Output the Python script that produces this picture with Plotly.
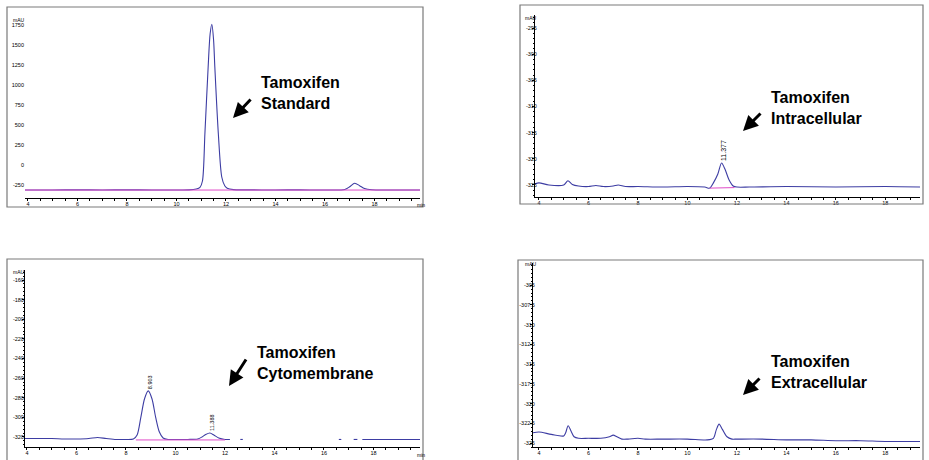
import plotly.graph_objects as go

W, H = 929, 460

# ---------------- data ----------------
# Panel 1: Tamoxifen Standard
std_t = [3.88, 5.0, 6.0, 7.0, 8.0, 9.0, 10.0, 10.5, 10.8, 10.95, 11.05, 11.15, 11.28, 11.36, 11.43,
         11.5, 11.55, 11.69, 11.83, 11.95, 12.05, 12.3, 12.8, 14.0, 15.0, 16.0, 16.8, 17.0, 17.2,
         17.4, 17.6, 17.9, 18.5, 19.84]
std_y = [-312, -312, -311, -312, -311, -312, -312, -311, -300, -280, -200, 400, 1225, 1640, 1760,
         1560, 1225, 400, -150, -260, -290, -308, -311, -312, -311, -312, -306, -272, -228,
         -258, -294, -309, -312, -312]
std_base_t = [3.88, 19.84]
std_base_y = [-313, -313]

# Panel 2: Tamoxifen Intracellular
intra_t = [3.84, 4.0, 4.4, 5.0, 5.17, 5.35, 5.6, 6.0, 6.3, 6.6, 7.0, 7.2, 7.5, 8.0, 9.0, 10.0,
           10.7, 10.9, 11.05, 11.23, 11.38, 11.52, 11.68, 11.85, 12.0, 12.5, 14.0, 16.0, 18.0, 19.4]
intra_y = [-324.8, -324.6, -325.0, -325.0, -324.2, -324.9, -325.2, -325.3, -325.1, -325.3, -325.2,
           -325.0, -325.3, -325.3, -325.4, -325.3, -325.4, -325.6, -324.6, -322.9, -320.8, -322.0,
           -324.0, -325.2, -325.4, -325.4, -325.3, -325.4, -325.3, -325.4]
intra_base_t = [10.9, 11.9]
intra_base_y = [-325.6, -325.5]

# Panel 3: Tamoxifen Cytomembrane (trace has gaps)
cyto_t = [3.92, 4.5, 5.0, 5.5, 6.0, 6.5, 6.85, 7.2, 7.6, 8.0, 8.3, 8.45, 8.6, 8.75, 8.9, 9.05,
          9.2, 9.35, 9.5, 9.7, 10.0, 10.5, 10.9, 11.07, 11.22, 11.39, 11.55, 11.75, 12.0, 12.2,
          None, 12.62, 12.72, None, 16.6, 16.7, None, 17.2, 17.35, None, 17.55, 18.5, 19.88]
cyto_y = [-321.5, -321.5, -321.5, -322, -322, -321.5, -320.5, -321.5, -322.5, -322.5, -322, -318,
          -300, -281, -273, -281, -300, -315, -321, -322.5, -322.5, -322.5, -322, -320, -317.5,
          -316, -318, -321, -322.5, -322.5,
          None, -322.5, -322.5, None, -322.5, -322.5, None, -322.5, -322.5, None, -322.5, -322.5, -322.5]
cyto_base_t = [8.4, 12.0]
cyto_base_y = [-323, -323]

# Panel 4: Tamoxifen Extracellular
extra_t = [3.76, 4.0, 4.5, 5.0, 5.08, 5.18, 5.3, 5.42, 5.6, 6.0, 6.5, 6.85, 7.0, 7.15, 7.35, 7.6,
           8.0, 8.3, 9.0, 10.0, 10.8, 11.05, 11.17, 11.28, 11.42, 11.6, 11.8, 12.0, 13.0, 14.0,
           15.0, 16.0, 17.0, 18.0, 19.4]
extra_y = [-323.7, -323.6, -323.9, -324.1, -323.7, -322.8, -323.5, -324.2, -324.4, -324.4, -324.4,
           -324.2, -324.0, -324.2, -324.5, -324.5, -324.4, -324.5, -324.5, -324.5, -324.6, -324.4,
           -323.3, -322.6, -323.3, -324.2, -324.5, -324.5, -324.5, -324.6, -324.6, -324.7, -324.7,
           -324.8, -324.8]

x_ticks = [4, 6, 8, 10, 12, 14, 16, 18]
y_ticks_std = [-250, 0, 250, 500, 750, 1000, 1250, 1500, 1750]
y_ticks_intra = [-325, -320, -315, -310, -305, -300, -295]
y_ticks_cyto = [-320, -300, -280, -260, -240, -220, -200, -180, -160]
y_ticks_extra = [-325, -322.5, -320, -317.5, -315, -312.5, -310, -307.5, -305]

# (text, panel, retention time, peak height, font size)
peak_labels = [("11.377", 2, 11.377, -320.8, 7), ("8.903", 3, 8.903, -273, 5.5),
               ("11.388", 3, 11.388, -316, 5.5)]

titles = ["Tamoxifen<br>Standard", "Tamoxifen<br>Intracellular",
          "Tamoxifen<br>Cytomembrane", "Tamoxifen<br>Extracellular"]

# ---------------- layout helpers (pixel geometry) ----------------
def px(x):
    return x / W

def py(y):
    return 1 - y / H

BLUE = "#3d3da3"
PINK = "#e04cc8"
FONT = "Liberation Sans, Arial, sans-serif"

# panel: (x0px, x1px, y0px(top), y1px(bottom), xrange, yrange, yticks, yline visible, minor y dtick, label standoff)
panels = [
    (25, 420, 15, 198, [3.88, 19.84], [-412.5, 1875], y_ticks_std, False, 50, 0),
    (535, 920, 15, 197, [3.84, 19.4], [-327.3, -292.5], y_ticks_intra, True, 1, -6),
    (25, 420, 270, 447, [3.92, 19.88], [-330.2, -149.8], y_ticks_cyto, True, 4, -3),
    (533, 920, 263, 447, [3.76, 19.4], [-325.5, -302.2], y_ticks_extra, True, 0.5, -6),
]

fig = go.Figure()

series = [
    (std_t, std_y, std_base_t, std_base_y),
    (intra_t, intra_y, intra_base_t, intra_base_y),
    (cyto_t, cyto_y, cyto_base_t, cyto_base_y),
    (extra_t, extra_y, None, None),
]

for i, (t, y, bt, by) in enumerate(series, start=1):
    xa, ya = ("x", "y") if i == 1 else (f"x{i}", f"y{i}")
    fig.add_trace(go.Scatter(x=t, y=y, mode="lines", line=dict(color=BLUE, width=1.1, shape="spline", smoothing=0.8),
                             xaxis=xa, yaxis=ya, showlegend=False, hoverinfo="skip", connectgaps=False))
    if bt is not None:
        fig.add_trace(go.Scatter(x=bt, y=by, mode="lines", line=dict(color=PINK, width=1),
                                 xaxis=xa, yaxis=ya, showlegend=False, hoverinfo="skip"))

layout = dict(width=W, height=H, margin=dict(l=0, r=0, t=0, b=0),
              paper_bgcolor="white", plot_bgcolor="white", showlegend=False,
              font=dict(family=FONT, color="black"))

def fmt(v):
    return ("%g" % v)

for i, (x0, x1, y0, y1, xr, yr, yt, yline, ymin, ystand) in enumerate(panels, start=1):
    sx = "" if i == 1 else str(i)
    layout[f"xaxis{sx}"] = dict(
        domain=[px(x0), px(x1)], range=xr, anchor=f"y{sx}",
        tickvals=x_ticks, ticktext=[str(v) for v in x_ticks],
        showline=True, linecolor="black", linewidth=1, ticks="outside", ticklen=2, tickcolor="black",
        tickfont=dict(size=5.5, family=FONT, color="black"), showgrid=False, zeroline=False,
        ticklabelstandoff=-2,
        minor=dict(dtick=0.5, tick0=4, ticks="outside", ticklen=1.5, tickcolor="black"),
    )
    layout[f"yaxis{sx}"] = dict(
        domain=[py(y1), py(y0)], range=yr, anchor=f"x{sx}",
        tickvals=yt, ticktext=[fmt(v) for v in yt],
        showline=yline, linecolor="black", linewidth=1, ticks="outside" if yline else "",
        ticklen=2, tickcolor="black", ticklabelstandoff=ystand,
        tickfont=dict(size=5.5, family=FONT, color="black"), showgrid=False, zeroline=False,
        minor=dict(dtick=ymin, ticks="outside" if yline else "", ticklen=1.5, tickcolor="black"),
    )

fig.update_layout(**layout)

# frames around each panel
frames = [(7, 7, 423, 207), (520, 5, 923, 204), (7, 259, 423, 461), (518, 260, 923, 461)]
for (a, b, c, d) in frames:
    fig.add_shape(type="rect", xref="paper", yref="paper", x0=px(a), x1=px(c), y0=py(d), y1=py(b),
                  line=dict(color="#7a7a7a", width=1.2), fillcolor="rgba(0,0,0,0)")

# mAU and min labels
for (x, y) in [(19, 20), (531, 18), (19, 272), (531, 264)]:
    fig.add_annotation(xref="paper", yref="paper", x=px(x), y=py(y), text="mAU", showarrow=False,
                       font=dict(size=5, family=FONT, color="black"), xanchor="center", yanchor="middle")
for (x, y) in [(421, 205), (421, 455)]:
    fig.add_annotation(xref="paper", yref="paper", x=px(x), y=py(y), text="min", showarrow=False,
                       font=dict(size=5, family=FONT, color="black"), xanchor="center", yanchor="middle")

# peak labels (rotated, just above each peak)
for (txt, pi, xv, yv, fs) in peak_labels:
    sx = "" if pi == 1 else str(pi)
    fig.add_annotation(xref=f"x{sx}", yref=f"y{sx}", x=xv, y=yv, text=txt, textangle=-90,
                       showarrow=False, yanchor="bottom", xanchor="center", yshift=0, xshift=2,
                       font=dict(size=fs, family=FONT, color="black"))

# titles
title_pos = [(259, 93), (769, 108), (255, 363), (769, 372)]
for txt, (x, y) in zip(titles, title_pos):
    fig.add_annotation(xref="paper", yref="paper", x=px(x), y=py(y), text="<b>" + txt + "</b>",
                       showarrow=False, xanchor="left", yanchor="middle", align="left",
                       font=dict(size=16, family=FONT, color="black"))

# arrows: (head_x, head_y, tail_x, tail_y) in px
arrows = [(233, 118, 252, 98), (743, 131, 762, 112), (229, 386, 247, 358), (743, 395, 761, 377)]
for (hx, hy, tx, ty) in arrows:
    fig.add_annotation(xref="paper", yref="paper", x=px(hx), y=py(hy), ax=tx - hx, ay=ty - hy,
                       text="", showarrow=True, arrowhead=2, arrowsize=1, arrowwidth=3,
                       arrowcolor="black", standoff=0, startstandoff=0)

fig.write_html("out.html", config={"displayModeBar": False},
               post_script="document.body.style.margin='0';document.body.style.padding='0';")
